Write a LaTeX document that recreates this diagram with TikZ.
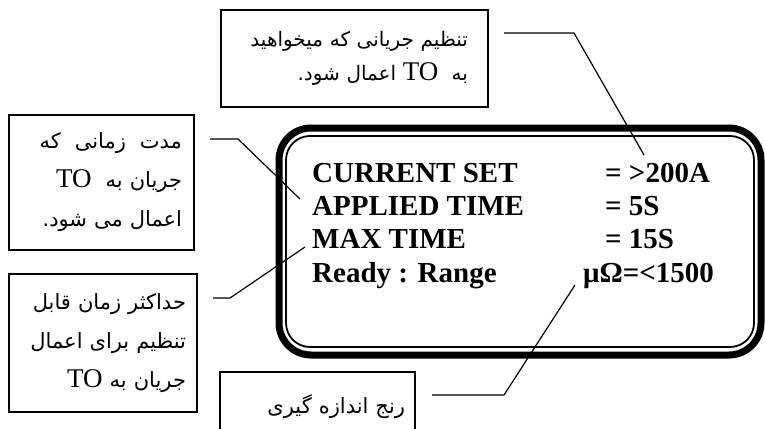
\documentclass[tikz,border=0pt]{standalone}
\usepackage{fontspec}
\setmainfont{Liberation Serif}
\newfontfamily\persianfont[Script=Arabic]{DejaVu Sans}
\TeXXeTstate=1
\usetikzlibrary{positioning}
\newcommand{\lcdsize}{\fontsize{29}{33}\selectfont\bfseries}
\newcommand{\fasize}{\fontsize{21}{39}\selectfont}
\newcommand{\TO}{\beginL{\rmfamily\fontsize{27}{30}\selectfont TO}\endL}

\begin{document}
\begin{tikzpicture}[x=1pt,y=-1pt,
    callout/.style={draw, line width=1.3pt, align=right, inner ysep=0pt, font=\persianfont\fasize},
    leader/.style={line width=1.2pt},
    lcdtext/.style={font=\lcdsize, inner sep=0pt, anchor=base west}]

        \useasboundingbox (0,0) rectangle (765,428);

        % Draw the display frame (thick outer line, thin inner line)
        \draw[line width=7pt, rounded corners=32pt] (279,128) rectangle (761,355);
        \draw[line width=1.8pt, rounded corners=24pt] (286,136) rectangle (754,347);

        % display lines
        \node[lcdtext] (curset) at (312,182) {CURRENT SET};
        \node[lcdtext] (applied) at (312,215) {APPLIED TIME};
        \node[lcdtext] (maxtime) at (312,248) {MAX TIME};
        \node[lcdtext] (ready) at (312,282) {Ready : Range};
        \node[lcdtext] (curval) at (605,182) {= >200A};
        \node[lcdtext] (appval) at (605,215) {= 5S};
        \node[lcdtext] (maxval) at (605,248) {= 15S};
        \node[lcdtext] (rangeval) at (583,282) {μΩ=<1500};

        % Draw the callout boxes
        \node[callout, text width=227pt, inner xsep=20pt, minimum height=97pt,
              font=\persianfont\fontsize{20}{34}\selectfont] (setbox) at (354.5,58.5)
            {\beginR تنظیم جریانی که میخواهید\endR\\
             \beginR به\ \ \TO\ اعمال شود.\endR};
        \node[callout, text width=161pt, inner xsep=12pt, minimum height=135pt] (timebox) at (101.5,182.5)
            {\beginR مدت\ \ زمانی\ \ که\endR\\
             \beginR جریان به\ \ \TO\endR\\
             \beginR اعمال می شود.\endR};
        \node[callout, text width=166pt, inner xsep=11pt, minimum height=138pt] (maxbox) at (103,343)
            {\beginR حداکثر زمان قابل\endR\\
             \beginR تنظیم برای اعمال\endR\\
             \beginR جریان به \TO\endR};
        \node[callout, text width=175pt, inner xsep=10pt, minimum height=70pt] (rangebox) at (317.5,407)
            {\beginR رنج اندازه گیری\endR};

        % leader lines from the boxes to the display
        \coordinate (set-a) at (504,33);
        \coordinate (set-b) at (574,33);
        \coordinate (set-c) at (644,155);
        \draw[leader] (set-a) -- (set-b) -- (set-c);

        \coordinate (time-a) at (210,139);
        \coordinate (time-b) at (238,139);
        \coordinate (time-c) at (300,199);
        \draw[leader] (time-a) -- (time-b) -- (time-c);

        \coordinate (max-a) at (213,298);
        \coordinate (max-b) at (230,298);
        \coordinate (max-c) at (305,247);
        \draw[leader] (max-a) -- (max-b) -- (max-c);

        \coordinate (range-a) at (432,395);
        \coordinate (range-b) at (504,395);
        \coordinate (range-c) at (575,285);
        \draw[leader] (range-a) -- (range-b) -- (range-c);
    \end{tikzpicture}
\end{document}
